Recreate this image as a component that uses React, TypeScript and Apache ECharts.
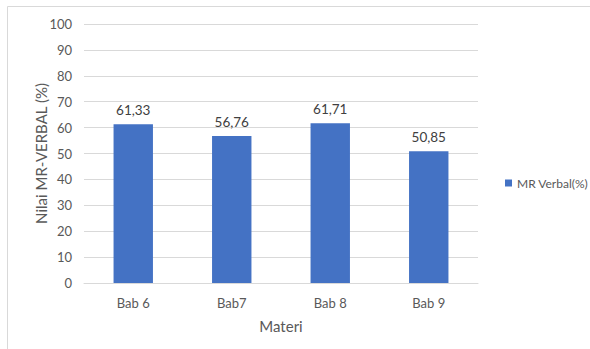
import React, { useEffect, useRef } from "react";
import * as echarts from "echarts";

const categories = ["Bab 6", "Bab7", "Bab 8", "Bab 9"];
const mrVerbal = [61.33, 56.76, 61.71, 50.85];
const seriesName = "MR Verbal(%)";
const yAxisName = "Nilai MR-VERBAL (%)";
const xAxisName = "Materi";

const FONT = "Lato";
const TXT = "#595959";

export default function App() {
  const ref = useRef<HTMLDivElement>(null);
  useEffect(() => {
    if (!ref.current) return;
    const chart = echarts.init(ref.current, undefined, { renderer: "svg" });
    chart.setOption({
      animation: false,
      backgroundColor: "#ffffff",
      textStyle: { fontFamily: FONT },
      grid: { left: 84, right: 112, top: 24, bottom: 66, containLabel: false },
      legend: {
        left: 500,
        top: 172,
        orient: "vertical",
        itemWidth: 7,
        itemHeight: 7,
        itemGap: 4,
        icon: "rect",
        textStyle: { color: TXT, fontSize: 12, fontFamily: FONT },
        data: [seriesName],
      },
      xAxis: {
        type: "category",
        data: categories,
        name: xAxisName,
        nameLocation: "middle",
        nameGap: 35,
        nameMoveOverlap: false,
        nameTextStyle: { color: TXT, fontSize: 15, fontFamily: FONT },
        axisLine: { show: true, lineStyle: { color: "#d9d9d9", width: 1 } },
        axisTick: { show: false },
        axisLabel: { color: TXT, fontSize: 13, margin: 13, fontFamily: FONT },
      },
      yAxis: {
        type: "value",
        min: 0,
        max: 100,
        interval: 10,
        name: yAxisName,
        nameLocation: "middle",
        nameGap: 36,
        nameMoveOverlap: false,
        nameTextStyle: { color: TXT, fontSize: 15, fontFamily: FONT },
        axisLine: { show: false },
        axisTick: { show: false },
        axisLabel: { color: TXT, fontSize: 13, margin: 12, fontFamily: FONT },
        splitLine: { lineStyle: { color: "#d9d9d9", width: 1 } },
      },
      series: [
        {
          name: seriesName,
          type: "bar",
          data: mrVerbal,
          barWidth: "40%",
          itemStyle: { color: "#4472C4" },
          label: {
            show: true,
            position: "top",
            distance: 7,
            color: "#404040",
            fontSize: 13.5,
            fontFamily: FONT,
            formatter: (p: any) => p.value.toFixed(2).replace(".", ","),
          },
        },
      ],
      graphic: [
        {
          type: "polyline",
          shape: { points: [[7.5, 349], [7.5, 6.5], [590, 6.5]] },
          style: { stroke: "#d9d9d9", fill: "none", lineWidth: 1 },
          silent: true,
        },
      ],
    });
    return () => chart.dispose();
  }, []);
  return (
    <div
      ref={ref}
      style={{ position: "fixed", left: 0, top: 0, width: 590, height: 349 }}
    />
  );
}
